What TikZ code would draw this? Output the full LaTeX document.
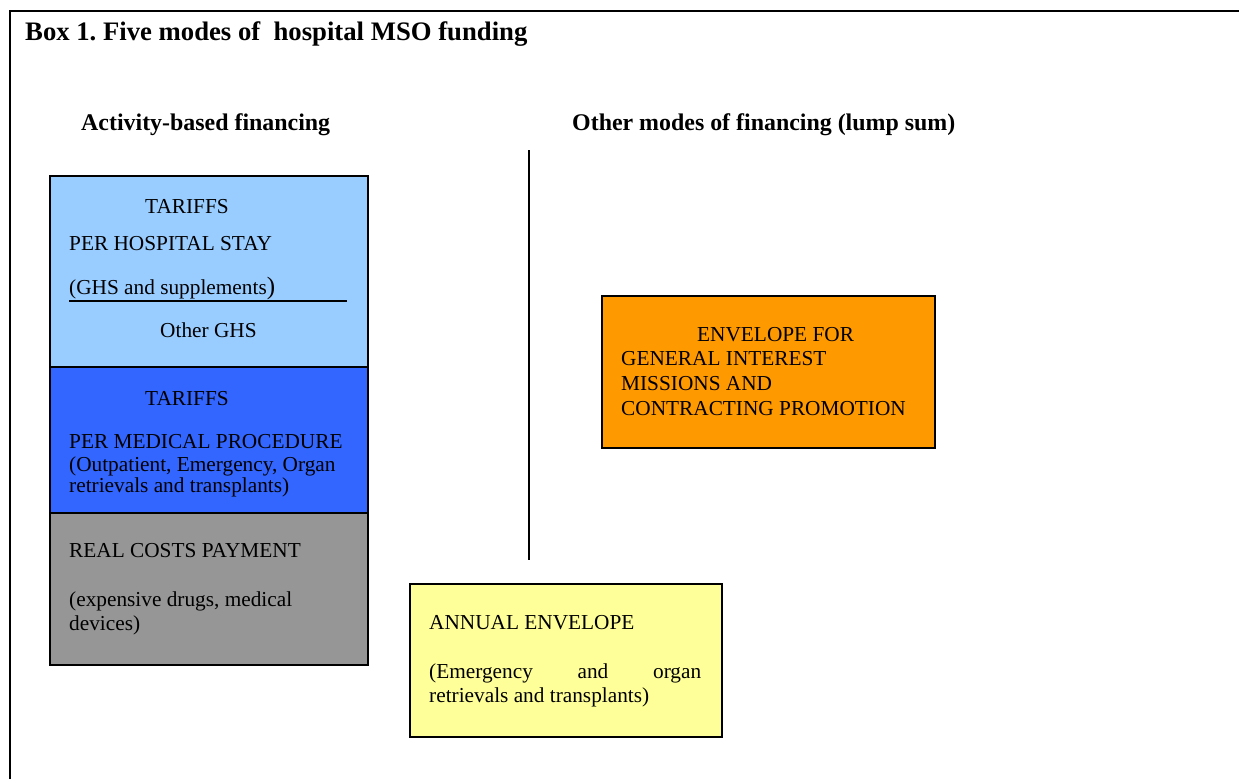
\documentclass[tikz,border=0pt]{standalone}
\usepackage{fontspec}
\setmainfont{Liberation Serif}
\frenchspacing
\definecolor{lbl}{HTML}{99CCFF}
\definecolor{mbl}{HTML}{3366FF}
\definecolor{gry}{HTML}{969696}
\definecolor{org}{HTML}{FF9900}
\definecolor{ylw}{HTML}{FFFF99}
\begin{document}
\begin{tikzpicture}[x=1pt,y=-1pt,
  txt/.style={inner sep=0pt, anchor=base west, font=\fontsize{21.3}{24}\selectfont},
  hd/.style={inner sep=0pt, anchor=base west, font=\fontsize{23.9}{27}\selectfont\bfseries},
  box/.style={draw, line width=1.6pt, inner sep=0pt, anchor=north west}]
\useasboundingbox (0,0) rectangle (1239,779);
\fill[white] (0,0) rectangle (1239,779);
% outer frame (open on right and bottom)
\draw[line width=2.2pt] (10,779) -- (10,11) -- (1239,11);
% title and headings
\node[inner sep=0pt, anchor=base west, font=\fontsize{26.7}{30}\selectfont\bfseries] (title) at (25,40) {Box 1. Five modes of\ \ hospital MSO funding};
\node[hd] (hleft) at (81,130) {Activity-based financing};
\node[hd] (hright) at (572,130) {Other modes of financing (lump sum)};
% divider
\coordinate (vt) at (529,150);
\coordinate (vb) at (529,560);
\draw[line width=1.6pt] (vt) -- (vb);
% left stack
\node[box, fill=lbl, minimum width=318pt, minimum height=191pt] (stay) at (49,175) {};
\node[box, fill=mbl, minimum width=318pt, minimum height=146pt] (proc) at (49,366) {};
\node[box, fill=gry, minimum width=318pt, minimum height=152pt] (real) at (49,512) {};
% right boxes
\node[box, fill=org, minimum width=333pt, minimum height=152pt] (env) at (601,295) {};
\node[box, fill=ylw, minimum width=312pt, minimum height=153pt] (ann) at (409,583) {};
% texts light blue
\node[txt] (t1) at (145,213) {TARIFFS};
\node[txt] (t2) at (69,250) {PER HOSPITAL STAY};
\node[txt] (t3) at (69,294) {(GHS and supplements{\fontsize{25}{25}\selectfont)}};
\coordinate (ls) at (69,301);
\coordinate (le) at (347,301);
\draw[line width=1.6pt] (ls) -- (le);
\node[txt] (t4) at (160,337) {Other GHS};
% texts blue
\node[txt] (t5) at (145,405) {TARIFFS};
\node[txt] (t6) at (69,448) {PER MEDICAL PROCEDURE};
\node[txt] (t7) at (69,471) {(Outpatient, Emergency, Organ};
\node[txt] (t8) at (69,492) {retrievals and transplants)};
% texts gray
\node[txt] (t9) at (69,557) {REAL COSTS PAYMENT};
\node[txt] (t10) at (69,606) {(expensive drugs, medical};
\node[txt] (t11) at (69,630) {devices)};
% texts orange
\node[txt] (t12) at (697,341) {ENVELOPE FOR};
\node[txt] (t13) at (621,365) {GENERAL INTEREST};
\node[txt] (t14) at (621,390) {MISSIONS AND};
\node[txt] (t15) at (621,415) {CONTRACTING PROMOTION};
% texts yellow
\node[txt] (t16) at (429,629) {ANNUAL ENVELOPE};
\node[txt] (t17) at (429,678) {\makebox[272pt][s]{(Emergency\hfill and\hfill organ}};
\node[txt] (t18) at (429,702) {retrievals and transplants)};
\end{tikzpicture}
\end{document}
